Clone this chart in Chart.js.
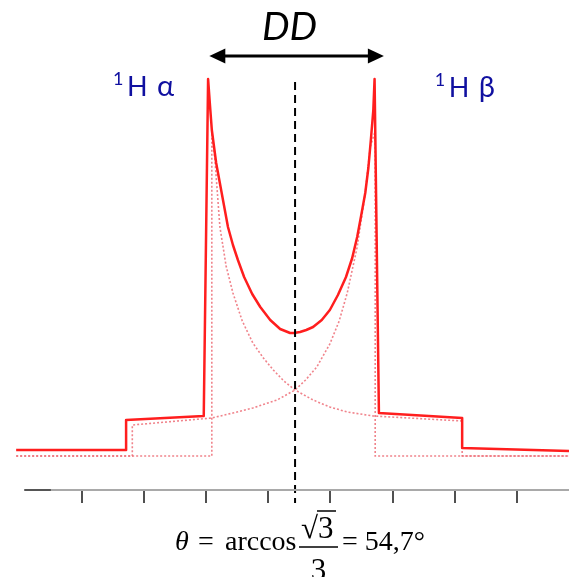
<!DOCTYPE html>
<html><head><meta charset="utf-8">
<script src="https://cdn.jsdelivr.net/npm/chart.js@4"></script>
<style>html,body{margin:0;padding:0;background:#fff}canvas{display:block}</style>
</head><body>
<canvas id="c" width="569" height="577"></canvas>
<script>
// tick positions on the frequency axis (no labels shown)
const tickPositions = [0, 1, 2, 3, 4, 5, 6, 7];

// solid: total spectrum
const sumX = [-1.06, 0.71, 0.71, 1.96, 2.03, 2.06, 2.09, 2.16, 2.24, 2.35, 2.43, 2.51, 2.61, 2.74, 2.87, 3.03, 3.19, 3.35, 3.41, 3.51, 3.61, 3.72, 3.86, 3.99, 4.12, 4.25, 4.35, 4.43, 4.49, 4.56, 4.61, 4.65, 4.69, 4.71, 4.78, 6.12, 6.12, 7.84];
const sumY = [0.06, 0.06, 0.36, 0.40, 3.77, 3.51, 3.26, 2.93, 2.66, 2.29, 2.11, 1.96, 1.79, 1.62, 1.49, 1.36, 1.27, 1.23, 1.23, 1.24, 1.26, 1.29, 1.36, 1.46, 1.61, 1.79, 1.98, 2.19, 2.39, 2.63, 2.88, 3.16, 3.46, 3.77, 0.43, 0.38, 0.08, 0.05];

// dotted: 1H alpha component
const alphaX = [-1.06, 2.09, 2.09, 2.14, 2.22, 2.32, 2.43, 2.58, 2.75, 2.92, 3.08, 3.25, 3.43, 3.72, 3.99, 4.27, 4.69, 6.12, 6.12, 7.84];
const alphaY = [0, 0, 3.25, 2.96, 2.29, 1.90, 1.63, 1.35, 1.13, 0.98, 0.86, 0.75, 0.66, 0.56, 0.49, 0.44, 0.40, 0.35, 0, 0];

// dotted: 1H beta component
const betaX = [-1.06, 0.81, 0.81, 2.09, 2.43, 2.75, 3.14, 3.43, 3.60, 3.78, 3.99, 4.14, 4.27, 4.43, 4.56, 4.64, 4.72, 4.72, 7.84];
const betaY = [0, 0, 0.31, 0.38, 0.43, 0.48, 0.56, 0.66, 0.76, 0.89, 1.12, 1.35, 1.63, 2.09, 2.63, 3.09, 3.25, 0, 0];

// dashed centre (isotropic) line
const centerX = [3.43, 3.43];
const centerY = [3.74, -0.47];

// DD arrow between the two horns
const ddArrowX = [2.05, 4.86];
const ddArrowY = 4.0;

const pts = (xs, ys) => xs.map((x, i) => ({x: x, y: ys[i]}));

const annot = {
  id: 'annot',
  afterDraw(chart) {
    const ctx = chart.ctx, xs = chart.scales.x, ys = chart.scales.y;
    const X = v => xs.getPixelForValue(v), Y = v => ys.getPixelForValue(v);
    ctx.save();
    // axis line
    const ay = Math.round(chart.chartArea.bottom);
    ctx.lineWidth = 2;
    ctx.strokeStyle = '#a9a9a9';
    ctx.beginPath(); ctx.moveTo(X(-0.5), ay); ctx.lineTo(X(7.84), ay); ctx.stroke();
    ctx.strokeStyle = '#555';
    ctx.beginPath(); ctx.moveTo(X(-0.93), ay); ctx.lineTo(X(-0.5), ay); ctx.stroke();

    // DD arrow
    const yA = Y(ddArrowY), x1 = X(ddArrowX[0]), x2 = X(ddArrowX[1]);
    ctx.strokeStyle = '#000'; ctx.fillStyle = '#000'; ctx.lineWidth = 3;
    ctx.beginPath(); ctx.moveTo(x1 + 12, yA); ctx.lineTo(x2 - 12, yA); ctx.stroke();
    ctx.beginPath(); ctx.moveTo(x1, yA); ctx.lineTo(x1 + 16, yA - 7.5); ctx.lineTo(x1 + 16, yA + 7.5); ctx.closePath(); ctx.fill();
    ctx.beginPath(); ctx.moveTo(x2, yA); ctx.lineTo(x2 - 16, yA - 7.5); ctx.lineTo(x2 - 16, yA + 7.5); ctx.closePath(); ctx.fill();

    // DD label
    ctx.font = 'italic 39px Lato, "Open Sans", sans-serif';
    ctx.textAlign = 'center'; ctx.textBaseline = 'alphabetic';
    ctx.fillText('DD', X(3.34), Y(4.16));

    // 1H alpha / 1H beta labels
    const lab = (x0, base, greek) => {
      ctx.fillStyle = '#1010a0';
      ctx.textAlign = 'left';
      ctx.font = '18px Lato, "Open Sans", sans-serif';
      ctx.fillText('1', x0, base - 11);
      ctx.font = '27px Lato, "Open Sans", sans-serif';
      ctx.fillText('H', x0 + 14, base);
      ctx.font = '29px Lato, "Open Sans", sans-serif';
      ctx.fillText(greek, x0 + 44, base);
    };
    lab(X(0.50), Y(3.60), 'α');
    lab(X(5.68), Y(3.59), 'β');

    // formula
    ctx.fillStyle = '#000';
    ctx.textAlign = 'left';
    const base = 550;
    ctx.font = 'italic 28px "Liberation Serif", "DejaVu Serif", serif';
    ctx.fillText('θ', 175, base);
    ctx.font = '28px "Liberation Serif", "DejaVu Serif", serif';
    ctx.fillText('=', 198, base);
    ctx.fillText('arccos', 225, base);
    ctx.fillText('= 54,7°', 342, base);
    ctx.font = '31px "Liberation Serif", "DejaVu Serif", serif';
    ctx.fillText('√', 301, 538);
    ctx.fillText('3', 318, 538);
    ctx.textAlign = 'center';
    ctx.fillText('3', 318.5, 580);
    ctx.lineWidth = 1.5;
    ctx.beginPath(); ctx.moveTo(317, 511); ctx.lineTo(336, 511); ctx.stroke();
    ctx.beginPath(); ctx.moveTo(299, 547); ctx.lineTo(338, 547); ctx.stroke();
    ctx.restore();
  }
};

new Chart(document.getElementById('c'), {
  type: 'line',
  data: {
    datasets: [
      { data: pts(centerX, centerY), borderColor: '#000', borderWidth: 2, borderDash: [8, 5], clip: false },
      { data: pts(sumX, sumY), borderColor: '#ff1e1e', borderWidth: 2.5, borderJoinStyle: 'round' },
      { data: pts(alphaX, alphaY), borderColor: 'rgba(236,100,110,0.8)', borderWidth: 1.6, borderDash: [2, 2] },
      { data: pts(betaX, betaY), borderColor: 'rgba(236,100,110,0.8)', borderWidth: 1.6, borderDash: [2, 2] }
    ]
  },
  options: {
    responsive: false,
    devicePixelRatio: 1,
    animation: false,
    layout: { padding: 0 },
    elements: { point: { radius: 0 }, line: { tension: 0 } },
    plugins: { legend: { display: false }, tooltip: { enabled: false } },
    scales: {
      x: {
        type: 'linear', min: -1.32, max: 7.84,
        afterBuildTicks: s => { s.ticks = tickPositions.map(v => ({value: v})); },
        afterFit: s => { s.height = 87; },
        ticks: { display: false },
        grid: { drawOnChartArea: false, drawTicks: true, tickLength: 13, color: '#505050', lineWidth: 2 },
        border: { display: false }
      },
      y: { type: 'linear', min: -0.34, max: 4.56, display: false }
    }
  },
  plugins: [annot]
});
</script>
</body></html>
